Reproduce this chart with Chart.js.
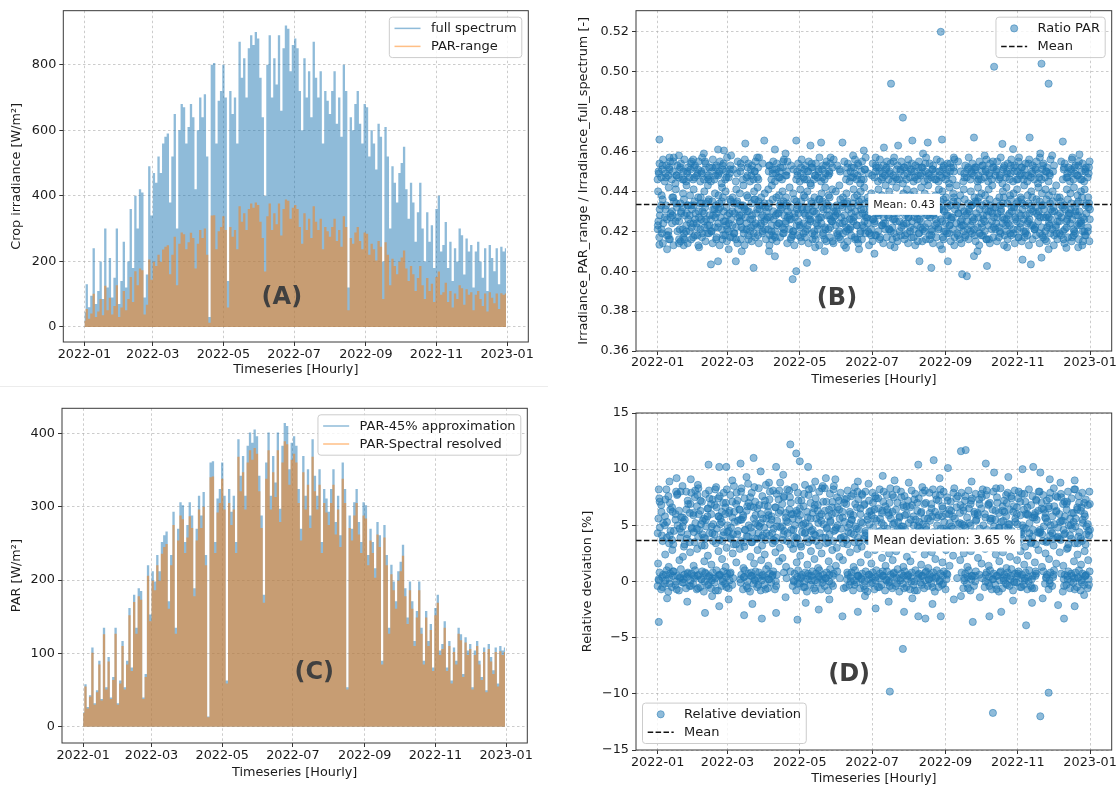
<!DOCTYPE html>
<html>
<head>
<meta charset="utf-8">
<title>PAR irradiance 2022</title>
<script src="https://cdn.jsdelivr.net/npm/chart.js@4.4.1/dist/chart.umd.min.js"></script>
<style>
  html, body { margin: 0; padding: 0; background: #fff; }
  body { width: 1120px; height: 789px; position: relative; overflow: hidden; }
  canvas { position: absolute; }
  .seam { position: absolute; left: 0; top: 386px; width: 548px; height: 0; border-top: 1px solid #ececec; }
</style>
</head>
<body>
<div class="seam"></div>
<canvas id="chartA" width="545" height="390" style="left:0;top:0"></canvas>
<canvas id="chartB" width="560" height="390" style="left:560px;top:0"></canvas>
<canvas id="chartC" width="545" height="394" style="left:0;top:395px"></canvas>
<canvas id="chartD" width="560" height="394" style="left:560px;top:395px"></canvas>
<script>
// time axis: days since 2022-01-01
const monthTickDays = [0, 59, 120, 181, 243, 304, 365];
const monthTickLabels = ['2022-01', '2022-03', '2022-05', '2022-07', '2022-09', '2022-11', '2023-01'];
const X_MIN = -18.25, X_MAX = 383.25;

// (A) / (C): daily peak values, one every 2 days
const fullSpectrum = [
  45,130,60,95,240,70,110,200,85,300,120,210,90,150,300,70,
  140,260,120,200,360,180,400,300,420,410,90,160,490,340,
  470,440,520,470,560,580,590,380,520,650,300,600,680,670,560,
  610,680,640,420,600,700,640,710,520,30,800,805,560,690,720,
  800,700,140,720,650,700,560,870,760,820,700,850,890,860,900,880,
  760,640,400,800,890,700,820,740,890,660,850,920,910,780,860,
  880,850,720,600,820,700,780,640,870,760,700,780,560,720,690,
  650,720,780,620,700,580,800,720,120,640,600,680,720,620,560,680,
  670,520,600,560,480,620,580,200,610,520,300,490,440,380,470,
  500,550,420,330,440,380,260,350,440,300,200,350,260,310,180,
  360,400,230,250,320,180,260,140,240,200,300,280,160,270,230,
  250,120,230,260,200,150,240,110,250,210,170,240,130,245,230,240
];
const par45Approx = [
  20,58,27,43,108,32,50,90,38,135,54,95,40,68,135,32,
  63,117,54,90,162,81,180,135,189,185,40,72,220,153,
  212,198,234,212,252,261,266,171,234,293,135,270,306,302,252,
  275,306,288,189,270,315,288,320,234,14,360,362,252,311,324,
  360,315,63,324,293,315,252,392,342,369,315,383,401,387,405,396,
  342,288,180,360,401,315,369,333,401,297,383,414,410,351,387,
  396,383,324,270,369,315,351,288,392,342,315,351,252,324,311,
  293,324,351,279,315,261,360,324,54,288,270,306,324,279,252,306,
  302,234,270,252,216,279,261,90,275,234,135,221,198,171,212,
  225,248,189,149,198,171,117,158,198,135,90,158,117,140,81,
  162,180,104,113,144,81,117,63,108,90,135,126,72,122,104,
  113,54,104,117,90,68,108,50,113,95,77,108,59,110,104,108
];
const parSpectral = [
  19,55,25,41,101,30,47,85,36,126,51,89,38,64,127,30,
  59,110,51,85,152,76,170,127,178,173,38,68,206,144,
  199,186,220,199,236,245,249,161,220,275,127,254,288,283,237,
  258,287,271,178,254,296,271,300,220,13,340,341,237,292,305,
  338,296,59,305,275,296,237,368,321,347,296,360,377,364,380,372,
  321,271,169,338,377,296,347,313,377,279,360,389,385,330,364,
  372,360,305,254,347,296,330,271,368,321,296,330,237,305,292,
  275,305,330,262,296,245,338,305,51,271,254,288,305,262,237,288,
  284,220,254,237,203,262,245,85,258,220,127,208,186,161,199,
  212,233,178,140,186,161,110,149,186,127,85,149,110,132,76,
  152,169,98,106,135,76,110,59,102,85,127,118,68,115,98,
  106,51,98,110,85,64,102,47,106,89,72,102,55,103,98,102
];
const irradianceTicks = [0, 200, 400, 600, 800];
const parTicks = [0, 100, 200, 300, 400];

// (B): ratio PAR-range / full spectrum, rows sampled every 3 days
const ratioUpper1 = [
  .446,.447,.445,.448,.446,.444,.447,.446,.445,.447,
  .446,.448,.445,.446,.447,.445,.446,.448,.444,.446,
  .447,null,.445,null,.446,.447,.445,.446,.447,null,
  null,null,.446,.445,.447,.446,.448,null,null,.446,
  .445,.447,.446,.444,.446,.447,.445,.446,.448,null,
  null,null,null,.446,.445,.447,.446,.444,.446,null,
  null,.447,.445,.446,.448,.446,.445,.447,.446,.444,
  .446,.447,.445,.446,.448,.445,.446,.447,.446,.445,
  .447,.446,.444,.446,null,null,.445,.447,.446,.448,
  .445,.446,.447,.445,.446,.448,.446,.444,.447,.446,
  .445,.446,.448,.446,.445,.447,.446,.444,.446,.447,
  .445,null,null,null,.446,.447,.445,.446,.448,.446,
  .445,.447
];
const ratioUpper2 = [
  .450,.451,.449,.452,.450,.448,.451,.450,.449,.451,
  .452,.449,.450,.451,.448,.450,.452,.449,.451,.450,
  .449,.451,null,.450,null,.448,.451,.450,.452,null,
  null,.450,.451,.449,.450,.452,.448,null,.451,.450,
  .449,.451,.450,.452,.448,.450,.451,.449,.450,.452,
  null,.451,null,.449,.450,.452,.448,.450,.451,.449,
  null,.450,.452,.449,.451,.450,.448,.451,.450,.452,
  .449,.451,.450,.448,.452,.450,.449,.451,.450,.448,
  .451,.449,.450,.452,null,.450,.449,.451,.450,.452,
  .448,.450,.451,.449,.452,.450,.448,.451,.450,.449,
  .452,.450,.449,.451,.448,.450,.452,.449,.451,.450,
  .449,.450,null,null,.451,.449,.450,.452,.448,.450,
  .451,.449
];
const ratioUpper3 = [
  .454,.456,.453,.455,.457,.453,.454,.456,.452,.455,
  .453,.455,.457,.454,.452,.456,.453,.455,.454,.457,
  .453,null,.455,.452,.456,.454,.453,.455,.457,.454,
  null,.453,.455,.454,.452,.456,.455,.453,null,.454,
  .456,.453,.455,.452,.454,.457,.453,.455,.454,.456,
  .453,null,.455,.454,.452,.456,.453,.455,.457,null,
  .454,.452,.456,.453,.455,.454,.457,.453,.455,.452,
  .456,.454,.453,.455,.452,.457,.454,.453,.456,.455,
  .453,.454,.452,.456,.455,null,.453,.457,.454,.452,
  .455,.453,.456,.454,.452,.455,.457,.453,.454,.456,
  .453,.455,.452,.454,.456,.453,.455,.457,.454,.452,
  .456,.453,null,.455,.454,.452,.456,.453,.455,.454,
  .452,.455
];
const ratioUpper4 = [
  .449,.453,.447,.451,.455,.448,.452,.446,.450,.454,
  .447,.451,.449,.455,.446,.452,.448,.450,.453,.447,
  .451,null,.449,.454,null,.452,.448,.450,.446,null,
  null,.453,.449,.451,.447,.455,.450,null,null,.448,
  .452,.446,.450,.454,.448,.451,.447,.453,.449,null,
  null,.450,null,.452,.447,.449,.454,.446,.451,null,
  .448,.453,.450,.447,.452,.449,.455,.446,.451,.448,
  .453,.450,.447,.452,.449,.454,.448,.451,.446,.450,
  .452,.448,.454,.450,null,null,.447,.452,.449,.451,
  .446,.453,.450,.448,.455,.451,.447,.452,.449,.453,
  .450,.446,.452,.448,.454,.449,.451,.447,.453,.450,
  .448,null,null,null,.452,.447,.451,.449,.453,.446,
  .450,.452
];
const ratioMid = [
  .440,.438,null,.442,.437,.441,null,.439,.443,.438,
  .441,null,.437,.440,.443,null,.439,.438,.442,.440,
  null,.437,.441,.439,.443,.438,null,.440,.442,.437,
  .439,.441,.443,null,.438,.440,.437,.442,.439,null,
  .441,.438,.440,.443,.437,null,.439,.442,.438,.441,
  .440,.443,.437,.439,null,.441,.438,.440,.442,.437,
  .439,null,.441,.438,.443,.440,.437,.442,null,.439,
  .441,.438,.440,.437,.442,.439,.443,null,.438,.441,
  .440,.437,.442,.439,.443,.438,.441,null,.440,.437,
  .442,.439,.438,.441,.443,null,.437,.440,.442,.438,
  .439,.441,.437,.443,.438,.440,null,.442,.439,.441,
  .438,.440,.443,.437,null,.441,.439,.442,.438,.440,
  .441,.437
];
const ratioLower1 = [
  null,.436,.433,null,.437,.432,.434,.436,.433,.433,
  .435,.437,.434,.432,.436,.435,.433,.434,.437,.432,
  .436,.434,.435,.433,.432,.437,.434,.436,.435,.433,
  .432,.434,.436,.437,.433,.435,.434,.432,.436,.433,
  .435,.437,.432,.434,.433,.436,.435,.434,.437,.432,
  .433,.436,.434,.435,.432,.437,.433,.436,.434,.435,
  .437,.432,.434,.436,.433,.435,.432,.434,.437,.436,
  .433,.435,.434,.432,.436,.433,.437,.435,.434,.432,
  .436,.434,.433,.437,.435,.432,.436,.434,.433,.435,
  .437,.433,.434,.436,.432,.435,.433,.437,.434,.436,
  .432,.435,.436,.433,.434,.437,.432,.435,.433,.436,
  .434,.432,.437,.435,.433,.436,.434,.432,.435,.437,
  .433,.434
];
const ratioLower2 = [
  .428,null,.426,.429,null,.427,.430,.428,.426,.431,
  .429,.427,.430,.426,.428,.431,.429,.427,.430,.428,
  .426,.429,.431,.428,.427,.430,.426,.429,.431,.428,
  .430,.427,.426,.429,.431,.428,.430,.426,.427,.429,
  .431,.428,.426,.430,.429,.427,.431,.428,.426,.430,
  .429,.427,.428,.431,.426,.430,.428,.429,.427,.431,
  .426,.429,.430,.427,.428,.431,.426,.429,.430,.428,
  .427,.431,.429,.426,.430,.428,.427,.429,.431,.426,
  .430,.428,.427,.431,.429,.426,.428,.430,.427,.429,
  .431,.426,.428,.430,.427,.429,.431,.426,.428,.430,
  .427,.429,.431,.428,.426,.430,.429,.427,.431,.428,
  .426,.430,.428,.427,.431,.429,.426,.428,.430,.427,
  .429,.431
];
const ratioLower3 = [
  .423,.421,null,.420,.424,null,.425,.421,.423,.420,
  .424,.422,.421,.425,.423,.420,.422,.424,.421,.425,
  .420,.423,.422,.425,.421,.424,.420,.423,.422,.424,
  .425,.421,.423,.420,.424,.422,.425,.421,.420,.423,
  .422,.424,.421,.425,.420,.423,.424,.422,.421,.425,
  .423,.420,.424,.422,.421,.425,.423,.420,.422,.424,
  .421,.425,.420,.423,.424,.421,.422,.425,.420,.423,
  .424,.422,.421,.423,.425,.420,.424,.421,.423,.422,
  .425,.420,.423,.421,.424,.422,.420,.425,.423,.421,
  .422,.424,.420,.423,.425,.421,.422,.424,.420,.423,
  .421,.425,.422,.420,.424,.423,.421,.425,.422,.420,
  .424,.421,.423,.425,.420,.422,.424,.421,.423,.425,
  .420,.422
];
const ratioLower4 = [
  .417,.414,null,.416,.413,null,.415,.419,.414,.416,
  .418,.413,.417,.415,.419,.414,.416,.413,.418,.415,
  .417,.419,.414,.416,.413,.418,.415,.417,.414,.419,
  .416,.413,.418,.415,.417,.419,.414,.416,.413,.418,
  .415,.417,.414,.419,.416,.413,.418,.415,.417,.414,
  .419,.416,.413,.415,.418,.417,.414,.416,.419,.413,
  .415,.418,.416,.414,.417,.413,.419,.415,.418,.416,
  .414,.417,.413,.419,.415,.416,.418,.414,.417,.413,
  .416,.419,.415,.413,.418,.414,.417,.416,.419,.415,
  .413,.418,.416,.414,.417,.415,.419,.413,.416,.418,
  .414,.417,.415,.419,.413,.416,.418,.414,.417,.415,
  .419,.413,.416,.418,.414,.417,.415,.419,.416,.413,
  .418,.415
];
const ratioLower5 = [
  .425,.419,.431,.416,.428,.434,.421,.417,.429,.424,
  .433,.418,.426,.422,.435,.420,.427,.431,.416,.423,
  .429,.417,.434,.425,.419,.430,.422,.436,.418,.427,
  .421,.432,.416,.428,.424,.419,.433,.426,.420,.431,
  .417,.429,.423,.435,.418,.426,.432,.421,.428,.415,
  .430,.424,.419,.434,.422,.427,.416,.431,.425,.420,
  .433,.418,.428,.423,.436,.421,.426,.417,.430,.424,
  .419,.432,.427,.415,.429,.422,.434,.420,.426,.431,
  .417,.428,.423,.435,.419,.425,.430,.421,.433,.418,
  .427,.422,.431,.416,.429,.424,.420,.434,.426,.419,
  .432,.421,.428,.417,.425,.433,.422,.430,.418,.427,
  .423,.435,.419,.429,.416,.426,.431,.420,.428,.424,
  .418,.432
];
const ratioLower6 = [
  .431,.424,.418,.427,.435,.420,.429,.416,.433,.422,
  .426,.430,.419,.434,.423,.428,.417,.432,.425,.421,
  .435,.419,.427,.422,.431,.416,.428,.424,.433,.420,
  .426,.418,.430,.423,.434,.421,.427,.417,.429,.425,
  .432,.420,.428,.416,.424,.436,.419,.431,.422,.427,
  .418,.433,.425,.421,.429,.416,.435,.423,.428,.419,
  .426,.431,.417,.424,.432,.420,.429,.434,.422,.418,
  .427,.425,.433,.419,.421,.430,.416,.428,.424,.435,
  .420,.432,.426,.417,.429,.423,.418,.431,.425,.434,
  .419,.428,.416,.433,.422,.427,.430,.418,.424,.432,
  .426,.417,.434,.420,.429,.423,.436,.419,.427,.422,
  .431,.418,.425,.433,.421,.428,.417,.430,.424,.420,
  .434,.426
];
const ratioLower7 = [
  .421,.433,.427,.418,.430,.425,.416,.432,.420,.428,
  .417,.424,.434,.429,.419,.426,.431,.422,.435,.418,
  .424,.430,.416,.428,.433,.421,.426,.419,.431,.423,
  .434,.427,.420,.417,.429,.432,.424,.428,.418,.435,
  .423,.419,.431,.426,.430,.421,.427,.416,.433,.425,
  .428,.417,.432,.420,.426,.434,.423,.419,.431,.427,
  .418,.424,.429,.433,.421,.427,.416,.430,.425,.435,
  .429,.420,.417,.426,.422,.432,.428,.418,.434,.421,
  .431,.424,.419,.427,.433,.416,.423,.429,.420,.426,
  .435,.418,.425,.430,.421,.432,.417,.427,.423,.429,
  .419,.434,.424,.426,.418,.431,.421,.428,.433,.416,
  .427,.430,.422,.419,.432,.425,.429,.418,.434,.423,
  .426,.420
];
// [day, ratio] for the scattered points outside the bands
const ratioScatter = [
  [1.5,.466],[18,.458],[39,.459],[51,.461],[56,.4605],[74,.464],[90,.4655],[99,.461],
  [117,.4655],[129,.463],[138,.4645],[156,.4645],[174,.4605],[191,.462],[203,.463],
  [215,.4655],[228,.4645],[240,.466],[267,.467],[291,.4638],[300,.4612],[314,.467],
  [323,.459],[342,.465],[356,.4585],
  [10,.457],[30,.456],[62,.458],[84,.457],[108,.459],[146,.457],[165,.458],[184,.457],
  [224,.459],[250,.457],[276,.458],[305,.457],[333,.458],[350,.457],
  [1.5,.4133],[18,.414],[22,.413],[45,.4034],[51,.405],[66,.405],[71,.41],[81,.4017],
  [99,.4075],[114,.396],[117,.4],[126,.4042],[141,.41],[159,.4117],[183,.4088],
  [221,.405],[231,.4017],[245,.405],[257,.3985],[261,.3975],[267,.4076],[278,.4026],
  [308,.4058],[315,.4034],[324,.4068],[345,.4117],[359,.415],
  [8,.411],[35,.412],[60,.411],[94,.41],[133,.412],[170,.411],[200,.412],[240,.411],
  [270,.41],[295,.412],[330,.411],[355,.412],
  [197,.494],[207,.477],[239,.52],[284,.5025],[324,.504],[330,.494]
];
const meanRatio = 0.4335;
const ratioTicks = [0.36, 0.38, 0.40, 0.42, 0.44, 0.46, 0.48, 0.50, 0.52];

// (D): relative deviation [%], rows sampled every 3 days
const devZero1 = [
  -0.4,-0.7,-0.2,-0.9,-0.5,-0.3,-0.8,-0.1,-0.6,-0.4,
  -0.2,-0.7,-0.5,-0.9,-0.3,-0.6,-0.1,-0.8,-0.4,-0.2,
  -0.6,-0.3,null,null,-0.7,-0.4,-0.9,-0.2,-0.5,-0.8,
  -0.3,-0.6,-0.1,-0.7,null,null,null,null,-0.4,-0.8,
  -0.2,-0.5,-0.9,-0.3,-0.6,-0.1,-0.7,-0.4,-0.8,-0.2,
  null,null,null,-0.5,-0.3,-0.8,-0.1,-0.6,-0.4,-0.9,
  -0.2,-0.7,-0.5,-0.3,-0.8,-0.1,-0.6,-0.4,-0.9,-0.2,
  -0.5,-0.7,-0.3,-0.8,-0.1,-0.6,-0.4,-0.2,-0.9,-0.5,
  -0.3,-0.7,null,null,null,null,-0.6,-0.2,-0.8,-0.4,
  null,null,-0.5,-0.1,-0.7,-0.3,-0.9,-0.6,-0.2,-0.4,
  -0.8,-0.1,-0.5,-0.3,-0.7,-0.4,-0.6,null,null,-0.2,
  -0.7,-0.4,null,null,-0.9,-0.3,-0.6,-0.1,-0.5,-0.8,
  -0.3,-0.6
];
const devZero2 = [
  0.2,0.4,0.1,0.3,0.5,0.0,0.3,0.2,0.4,0.1,
  0.3,0.5,0.2,0.0,0.4,0.1,0.3,0.5,0.2,0.4,
  0.1,0.3,null,0.2,0.4,0.0,0.5,0.2,0.3,0.1,
  0.4,0.2,0.5,0.0,null,null,0.3,null,0.1,0.4,
  0.3,0.0,0.2,0.5,0.1,0.4,0.2,0.3,0.0,0.5,
  null,0.3,null,0.2,0.4,0.1,0.5,0.3,0.0,0.2,
  0.4,0.1,0.3,0.5,0.2,0.0,0.4,0.3,0.1,0.5,
  0.2,0.4,0.0,0.3,0.5,0.1,0.2,0.4,0.3,0.0,
  0.5,0.2,null,null,0.3,null,0.1,0.4,0.2,0.5,
  null,0.3,0.0,0.4,0.2,0.5,0.1,0.3,0.4,0.2,
  0.0,0.5,0.3,0.1,0.4,0.2,0.5,null,null,0.3,
  0.1,0.4,null,null,0.2,0.5,0.0,0.3,0.4,0.1,
  0.5,0.2
];
const devZero3 = [
  0.8,0.6,1.0,0.7,0.9,0.5,1.1,0.6,0.8,0.7,
  1.0,0.6,0.9,0.7,0.5,0.8,1.0,0.6,0.9,0.7,
  0.8,null,null,0.6,1.0,0.7,0.5,0.9,0.8,0.6,
  1.1,0.7,0.9,0.6,null,0.8,null,null,0.7,1.0,
  0.6,0.8,0.5,0.9,0.7,1.0,0.6,0.8,1.1,0.7,
  0.9,null,null,0.6,0.8,1.0,0.5,0.7,0.9,0.6,
  0.8,1.0,0.7,0.5,0.9,0.6,0.8,1.1,0.7,0.9,
  0.6,0.8,1.0,0.7,0.5,0.9,0.6,0.8,1.0,0.7,
  0.9,0.6,null,null,null,0.8,0.7,1.0,0.5,0.9,
  0.6,null,0.8,1.0,0.7,0.5,0.9,0.6,0.8,1.1,
  0.7,0.9,0.6,0.8,1.0,0.5,0.7,null,0.9,0.6,
  0.8,1.0,null,0.7,0.6,0.9,0.5,0.8,1.0,0.7,
  0.6,0.9
];
const devZero4 = [
  0.1,-0.5,0.6,-0.2,0.9,-0.7,0.4,-0.1,0.7,-0.4,
  0.5,-0.6,0.2,0.8,-0.3,0.3,-0.8,0.6,0.0,-0.5,
  0.7,null,null,-0.1,0.4,-0.6,0.8,0.1,-0.3,0.5,
  -0.7,0.2,0.6,-0.4,null,null,null,0.9,0.0,-0.2,
  0.4,-0.5,0.7,0.1,-0.8,0.5,-0.1,0.3,0.6,-0.4,
  null,null,-0.6,0.8,0.0,-0.3,0.5,0.2,-0.7,0.6,
  -0.1,0.4,-0.5,0.9,0.1,-0.4,0.7,-0.2,0.3,-0.6,
  0.5,0.0,-0.8,0.6,-0.3,0.8,0.2,-0.5,0.4,0.1,
  -0.2,0.7,null,null,null,null,0.3,-0.6,0.5,0.0,
  null,null,0.6,-0.4,0.2,-0.7,0.8,0.1,-0.3,0.5,
  -0.1,0.7,-0.5,0.3,0.0,-0.6,0.9,null,null,0.4,
  -0.2,0.6,null,null,-0.4,0.2,0.7,-0.7,0.3,-0.1,
  0.5,-0.3
];
const devMid = [
  1.6,null,2.4,1.3,2.8,null,1.9,2.2,null,2.6,
  1.4,2.9,null,1.8,2.3,1.5,null,2.7,2.0,1.3,
  null,2.5,1.7,2.9,1.2,null,2.2,1.6,2.8,1.9,
  2.4,1.4,null,2.6,1.8,2.1,1.3,null,2.9,1.7,
  2.3,null,1.5,2.7,2.0,1.2,2.5,null,1.8,2.8,
  1.4,2.2,1.9,null,2.6,1.3,2.9,1.7,null,2.4,
  1.6,2.8,null,2.1,1.4,2.5,1.9,2.7,null,1.3,
  2.2,1.8,2.9,null,1.5,2.4,1.2,2.6,2.0,null,
  1.7,2.8,1.4,2.3,null,1.9,2.5,1.3,2.7,null,
  2.1,1.6,2.9,1.4,null,2.4,1.8,2.6,1.2,2.2,
  null,1.9,2.7,1.5,2.3,null,1.7,2.8,1.3,2.5,
  2.0,null,1.6,2.6,1.4,2.9,null,1.8,2.4,1.5,
  2.7,1.9
];
const devUpper1 = [
  null,3.6,null,4.1,3.3,null,3.9,3.1,4.2,null,
  3.5,4.0,3.2,3.8,null,4.3,3.4,3.7,4.1,3.0,
  3.9,3.3,4.2,3.6,3.1,4.0,3.5,3.8,4.3,3.2,
  3.7,4.1,3.4,3.9,3.0,4.2,3.6,3.3,4.0,3.8,
  3.1,4.3,3.5,3.7,4.1,3.2,3.9,3.4,4.2,3.6,
  3.0,3.8,4.0,3.3,4.3,3.5,3.9,3.1,4.1,3.7,
  3.4,4.2,3.6,3.0,3.8,4.0,3.2,4.3,3.5,3.9,
  3.1,4.1,3.7,3.3,4.2,3.6,3.0,3.9,4.0,3.4,
  3.8,3.2,4.3,3.5,3.7,4.1,3.1,3.9,3.6,4.2,
  3.3,4.0,3.5,3.8,3.0,4.3,3.6,3.2,4.1,3.7,
  3.9,3.4,4.2,3.1,3.8,4.0,3.3,4.3,3.6,3.5,
  4.1,3.2,3.9,3.7,4.2,3.0,3.8,3.4,4.0,3.6,
  3.3,4.1
];
const devUpper2 = [
  4.8,null,5.3,4.5,null,5.0,4.4,5.5,null,4.7,
  5.2,4.6,5.4,4.9,4.3,5.1,4.7,5.6,4.4,5.0,
  4.8,5.3,4.5,5.5,4.6,5.0,4.4,5.2,4.9,5.6,
  4.3,5.1,4.7,5.4,4.8,4.5,5.3,4.6,5.0,5.5,
  4.4,5.2,4.9,4.6,5.6,4.3,5.1,4.8,5.4,4.5,
  5.0,4.7,5.3,4.4,5.5,4.9,4.6,5.2,4.3,5.1,
  4.8,5.4,4.5,5.0,4.7,5.6,4.4,5.3,4.9,4.6,
  5.2,4.3,5.5,4.8,5.1,4.6,5.4,4.4,5.0,4.7,
  5.3,4.5,4.9,5.6,4.4,5.1,4.8,5.2,4.3,5.5,
  4.7,5.0,4.6,5.4,4.9,4.4,5.3,4.8,5.1,4.5,
  5.6,4.3,5.0,4.7,5.2,4.6,5.5,4.4,4.9,5.3,
  4.5,5.1,4.8,5.4,4.3,5.0,4.7,5.6,4.4,5.2,
  4.9,4.6
];
const devUpper3 = [
  null,6.2,5.8,null,6.6,6.0,null,5.7,6.4,6.1,
  5.9,6.7,6.3,5.6,6.5,6.0,6.8,5.8,6.2,6.6,
  6.1,5.7,6.9,6.4,5.9,6.3,6.7,5.6,6.5,6.0,
  6.8,6.2,5.8,6.6,6.1,6.9,5.7,6.4,6.0,6.3,
  5.9,6.7,6.2,5.6,6.5,6.8,6.0,6.3,5.8,6.6,
  6.1,6.4,5.7,6.9,6.2,5.9,6.6,6.0,6.8,5.8,
  6.3,5.6,6.5,6.1,6.7,5.9,6.2,6.4,5.7,6.8,
  6.0,6.6,5.8,6.3,6.1,6.9,5.6,6.5,6.2,5.9,
  6.7,6.0,6.4,5.8,6.6,6.1,6.3,5.7,6.9,6.2,
  5.9,6.5,6.0,6.8,5.6,6.3,6.1,6.7,5.8,6.4,
  6.2,6.6,5.9,6.4,6.0,6.8,5.7,6.3,6.5,6.1,
  6.7,5.8,6.2,6.0,6.9,6.4,5.6,6.1,6.6,6.3,
  6.0,6.8
];
const devUpper4 = [
  7.4,null,8.2,7.0,null,7.7,8.0,null,7.2,7.9,
  7.5,8.3,7.1,7.8,8.1,7.3,8.4,7.6,7.0,8.2,
  7.7,8.5,7.2,8.0,7.4,8.7,7.9,7.1,8.3,7.6,
  8.6,7.3,8.1,7.8,8.8,7.5,8.2,7.0,8.4,7.9,
  7.2,8.6,7.7,8.3,7.4,8.0,8.5,7.1,7.8,8.2,
  7.5,7.9,7.0,8.1,7.6,8.4,7.3,7.8,8.0,7.2,
  7.9,7.4,8.2,7.1,7.7,8.3,7.5,7.0,8.0,7.6,
  7.2,8.1,7.8,7.4,8.4,7.0,7.9,8.2,7.3,7.7,
  8.0,7.5,7.1,8.3,7.6,7.9,7.2,8.1,7.4,7.8,
  7.3,8.2,7.7,7.0,8.0,7.5,8.3,7.2,7.9,7.6,
  8.1,7.4,7.8,7.1,8.2,7.6,7.3,8.0,7.7,7.2,
  7.9,8.3,7.5,7.8,7.1,8.0,7.4,8.2,7.6,7.9,
  7.3,8.0
];
const devUpper5 = [
  5.6,4.1,7.3,3.4,6.2,8.0,4.7,5.3,3.8,6.9,
  4.4,7.7,5.1,3.2,6.5,4.9,8.2,5.8,3.6,7.0,
  6.3,4.2,7.9,5.5,3.5,6.7,4.8,8.4,5.0,3.9,
  7.2,5.9,4.3,6.6,8.1,3.7,5.4,7.5,4.6,6.1,
  3.3,7.8,5.7,4.5,6.8,5.2,8.3,3.9,6.4,7.1,
  4.8,5.6,3.4,7.4,6.0,4.2,8.0,5.3,6.9,3.6,
  5.9,7.6,4.4,6.3,3.8,7.0,5.1,8.2,4.7,6.6,
  3.5,5.5,7.3,4.9,6.2,8.1,4.1,5.8,7.7,3.7,
  6.5,4.6,5.2,7.9,3.3,6.8,5.0,4.3,7.2,6.0,
  4.0,7.5,5.7,3.6,6.4,8.3,4.8,5.4,7.0,3.9,
  6.7,5.1,4.4,7.8,5.9,3.5,6.1,8.0,4.2,5.6,
  7.4,3.8,6.3,5.3,4.6,7.1,5.0,8.2,3.4,6.6,
  5.8,4.5
];
const devUpper6 = [
  7.1,5.2,3.9,6.4,4.5,7.8,5.7,3.3,6.9,4.8,
  8.1,6.0,4.2,5.5,7.4,3.6,6.6,5.1,7.9,4.4,
  3.8,6.2,5.4,8.3,4.6,7.0,3.5,5.9,6.8,4.1,
  5.6,8.0,3.7,4.9,6.3,7.6,4.3,6.0,3.4,7.2,
  5.0,4.4,8.2,6.1,3.6,5.8,7.1,4.7,5.3,8.5,
  6.6,3.9,7.3,4.8,5.5,6.9,3.5,7.7,4.5,6.2,
  7.0,4.3,5.6,8.0,6.4,3.8,5.2,4.6,7.5,5.9,
  4.2,6.8,3.6,5.3,7.9,4.9,6.1,3.4,5.7,8.2,
  4.7,7.2,6.3,3.9,5.1,4.4,7.6,6.5,3.7,5.4,
  6.9,4.1,8.1,5.6,4.5,7.0,3.5,6.2,4.8,7.4,
  5.3,8.0,3.8,6.0,4.3,5.7,7.2,4.6,6.4,3.6,
  5.0,6.7,4.0,7.5,5.8,3.3,6.1,4.9,7.0,5.5,
  4.2,6.9
];
const devUpper7 = [
  4.3,6.8,5.0,7.6,3.7,5.5,6.3,4.9,8.0,3.5,
  6.1,4.7,7.2,3.9,5.8,6.9,4.2,7.4,5.3,6.0,
  4.5,7.1,3.3,6.4,5.7,4.0,7.5,6.6,3.8,5.2,
  4.8,6.7,5.5,3.6,7.3,4.9,6.1,8.1,5.6,3.9,
  6.5,5.1,3.8,7.0,4.2,6.3,5.4,8.3,3.5,6.0,
  4.6,7.2,6.2,3.7,5.1,7.8,4.7,6.5,3.8,5.5,
  4.0,6.4,7.4,5.2,4.4,6.1,7.7,3.6,5.8,4.9,
  6.7,3.9,5.0,7.0,4.5,5.6,3.3,6.9,4.3,7.2,
  5.8,3.6,6.0,4.7,7.4,5.2,6.6,3.9,5.0,4.4,
  6.1,7.8,4.2,6.9,3.7,5.5,4.8,6.3,7.7,5.1,
  3.9,6.0,7.1,4.8,6.6,3.4,5.9,4.4,7.0,5.7,
  6.5,4.3,7.6,3.8,5.4,6.9,4.1,5.3,6.4,3.8,
  7.0,5.1
];
// [day, deviation %] for the scattered points outside the bands
const deviationScatter = [
  [1,8.2],[16,9.2],[21,8.5],[34,8.6],[43,10.4],[52,10.2],[58,10.2],[70,10.5],[81,11.0],
  [87,9.8],[100,10.2],[112,12.2],[117,11.4],[120,10.7],[127,10.2],[142,9.2],[169,8.9],
  [190,9.4],[220,10.4],[233,10.8],[245,10.1],[256,11.6],[260,11.7],[277,10.5],[284,9.7],
  [308,10.0],[317,10.2],[323,9.7],[331,9.1],
  [10,8.9],[28,9.1],[63,9.0],[75,9.3],[94,8.8],[106,9.5],[133,8.9],[150,9.1],[178,8.7],
  [200,9.0],[212,8.8],[238,9.2],[265,8.9],[296,9.3],[340,8.8],[352,9.0],
  [1,-3.6],[40,-2.8],[52,-2.2],[73,-3.0],[88,-3.3],[100,-2.8],[118,-3.4],[136,-2.5],
  [156,-3.1],[169,-2.7],[184,-2.4],[208,-2.7],[220,-3.1],[226,-3.3],[239,-3.1],[256,-1.3],
  [266,-3.6],[280,-3.1],[290,-2.7],[311,-3.9],[316,-1.9],[343,-3.3],[352,-2.2],
  [8,-1.5],[25,-1.8],[46,-1.3],[60,-1.6],[80,-2.0],[108,-1.4],[125,-1.9],[145,-1.6],
  [175,-1.3],[195,-1.8],[215,-1.5],[232,-2.0],[250,-1.6],[272,-1.4],[300,-1.7],[325,-1.5],
  [338,-2.1],[360,-1.2],
  [196,-9.8],[207,-6.0],[283,-11.7],[323,-12.0],[330,-9.9]
];
const meanDeviation = 3.65;
const deviationTicks = [-15, -10, -5, 0, 5, 10, 15];

// ---------------- styling ----------------
const FONT = "'DejaVu Sans', sans-serif";
const TEXT = '#1a1a1a';
const TICK_FONT = { family: FONT, size: 12.8 };
const GRID_COLOR = 'rgba(170,170,170,0.75)';
const BLUE_HALF = 'rgba(31,119,180,0.5)';
const ORANGE_HALF = 'rgba(255,127,14,0.5)';
const POINT_R = 3.6;
const MEAN_DASH = [5.5, 2.4];

const AREA_STEP = 2;
const SCATTER_STEP = 3;
const toSteps = vals => vals.map((v, i) => ({ x: i * AREA_STEP, y: v }));
const toRow = (vals, shift) => vals.flatMap((v, i) => v === null ? [] : [{ x: i * SCATTER_STEP + shift, y: v }]);
const toPairs = pairs => pairs.map(([x, y]) => ({ x, y }));

function drawLegend(chart, spec) {
  const { ctx, chartArea: a } = chart;
  const items = spec.order.map(i => chart.data.datasets[i]);
  const fs = 13, pad = 5.2, hl = 26, tp = 10.4, pitch = 18, gap = 6.5;
  ctx.save();
  ctx.font = fs + 'px ' + FONT;
  const tw = Math.max(...items.map(ds => ctx.measureText(ds.label).width));
  const w = pad + hl + tp + tw + pad;
  const h = 2 * pad + 12 + pitch * (items.length - 1);
  const x = spec.corner === 'bl' ? a.left + gap : a.right - gap - w;
  const y = spec.corner === 'bl' ? a.bottom - gap - h : a.top + gap;
  ctx.beginPath();
  if (ctx.roundRect) ctx.roundRect(x, y, w, h, 3); else ctx.rect(x, y, w, h);
  ctx.fillStyle = 'rgba(255,255,255,0.8)';
  ctx.fill();
  ctx.strokeStyle = '#cccccc';
  ctx.lineWidth = 1;
  ctx.stroke();
  items.forEach((ds, k) => {
    const cy = y + pad + 6 + k * pitch;
    const hx = x + pad;
    if (ds.legendKind === 'marker') {
      ctx.beginPath();
      ctx.arc(hx + hl / 2, cy, POINT_R, 0, 2 * Math.PI);
      ctx.fillStyle = ds.backgroundColor;
      ctx.fill();
      ctx.strokeStyle = ds.backgroundColor;
      ctx.lineWidth = 1;
      ctx.stroke();
    } else {
      ctx.beginPath();
      ctx.setLineDash(ds.legendKind === 'dash' ? MEAN_DASH : []);
      ctx.moveTo(hx, cy);
      ctx.lineTo(hx + hl, cy);
      ctx.strokeStyle = ds.legendColor;
      ctx.lineWidth = 1.5;
      ctx.stroke();
      ctx.setLineDash([]);
    }
    ctx.fillStyle = TEXT;
    ctx.textAlign = 'left';
    ctx.textBaseline = 'middle';
    ctx.fillText(ds.label, hx + hl + tp, cy + 0.5);
  });
  ctx.restore();
}

// frame, legend box, mean label and panel letter
const decorPlugin = {
  id: 'decor',
  afterDatasetsDraw(chart) {
    const { ctx, chartArea: a } = chart;
    ctx.save();
    ctx.strokeStyle = '#3a3a3a';
    ctx.lineWidth = 1;
    ctx.strokeRect(a.left, a.top, a.right - a.left, a.bottom - a.top);
    ctx.restore();
  },
  afterDraw(chart, args, opts) {
    const { ctx, chartArea: a, scales } = chart;
    if (opts.meanLabel) {
      const m = opts.meanLabel;
      const px = scales.x.getPixelForValue(m.x);
      const py = scales.y.getPixelForValue(m.y);
      ctx.save();
      ctx.font = m.size + 'px ' + FONT;
      const tw = ctx.measureText(m.text).width;
      ctx.fillStyle = '#ffffff';
      ctx.fillRect(px - 5, py - m.size / 2 - 5, tw + 10, m.size + 10);
      ctx.fillStyle = TEXT;
      ctx.textAlign = 'left';
      ctx.textBaseline = 'middle';
      ctx.fillText(m.text, px, py + 0.5);
      ctx.restore();
    }
    if (opts.legend) drawLegend(chart, opts.legend);
    if (opts.letter) {
      const l = opts.letter;
      ctx.save();
      ctx.font = 'bold 24px ' + FONT;
      ctx.fillStyle = '#404040';
      ctx.textAlign = 'center';
      ctx.textBaseline = 'middle';
      ctx.fillText(l.text, a.left + l.fx * (a.right - a.left), a.top + l.fy * (a.bottom - a.top));
      ctx.restore();
    }
  }
};
Chart.register(decorPlugin);

function xAxis(height, tickPad, titlePad) {
  return {
    type: 'linear', position: 'bottom', min: X_MIN, max: X_MAX,
    afterBuildTicks: s => { s.ticks = monthTickDays.map(v => ({ value: v })); },
    afterFit: s => { s.height = height; },
    ticks: { autoSkip: false, maxRotation: 0, padding: tickPad, color: TEXT, font: TICK_FONT,
             callback: (v, i) => monthTickLabels[i] },
    grid: { color: GRID_COLOR, lineWidth: 0.8, tickLength: 4, tickColor: '#333', tickWidth: 1 },
    border: { display: false, dash: [2.5, 2.5] },
    title: { display: true, text: 'Timeseries [Hourly]', color: TEXT, font: TICK_FONT,
             padding: { top: 0, bottom: titlePad } }
  };
}

function yAxis(o) {
  return {
    type: 'linear', min: o.min, max: o.max,
    afterBuildTicks: s => { s.ticks = o.ticks.map(v => ({ value: v })); },
    afterFit: s => { s.width = o.width; },
    ticks: { padding: 3, color: TEXT, font: TICK_FONT, callback: o.fmt },
    grid: { color: GRID_COLOR, lineWidth: 0.8, tickLength: 4, tickColor: '#333', tickWidth: 1 },
    border: { display: false, dash: [2.5, 2.5] },
    title: { display: true, text: o.title, color: TEXT, font: TICK_FONT,
             padding: { top: o.titlePad, bottom: 0 } }
  };
}

function baseOptions(p) {
  return {
    responsive: false, animation: false, events: [],
    layout: { padding: p.padding },
    scales: { x: p.x, y: p.y },
    plugins: { legend: { display: false }, tooltip: { enabled: false }, decor: p.decor }
  };
}

function areaDataset(label, vals, color, order) {
  return {
    type: 'line', label, data: toSteps(vals), stepped: 'middle', fill: 'origin',
    backgroundColor: color, borderColor: 'rgba(0,0,0,0)', borderWidth: 0, pointRadius: 0,
    order, legendKind: 'line', legendColor: color
  };
}

function scatterDataset(label, points) {
  return {
    type: 'scatter', label, data: points, pointRadius: POINT_R, borderWidth: 1,
    backgroundColor: BLUE_HALF, borderColor: BLUE_HALF, order: 2, legendKind: 'marker'
  };
}

function meanDataset(value) {
  return {
    type: 'line', label: 'Mean', data: [{ x: X_MIN, y: value }, { x: X_MAX, y: value }],
    borderColor: '#111', borderWidth: 1.5, borderDash: MEAN_DASH, pointRadius: 0,
    order: 1, legendKind: 'dash', legendColor: '#111'
  };
}

const minusFmt = v => (v < 0 ? '\u2212' + Math.abs(v) : String(v));

// (A)
new Chart(document.getElementById('chartA'), {
  type: 'line',
  data: { datasets: [
    areaDataset('full spectrum', fullSpectrum, BLUE_HALF, 2),
    areaDataset('PAR-range', parSpectral, ORANGE_HALF, 1)
  ] },
  options: baseOptions({
    padding: { left: 0, top: 7.3, right: 16.7, bottom: 0 },
    x: xAxis(48, 1, 12.3),
    y: yAxis({ min: -46, max: 965, ticks: irradianceTicks, fmt: v => String(v),
               title: 'Crop irradiance [W/m\u00b2]', width: 63.3, titlePad: 9.3 }),
    decor: { legend: { corner: 'tr', order: [0, 1] }, letter: { text: '(A)', fx: 0.47, fy: 0.866 } }
  })
});

// (B)
const ratioPoints = [].concat(
  toRow(ratioUpper1, 0), toRow(ratioUpper2, 0.8), toRow(ratioUpper3, 1.6), toRow(ratioUpper4, 1.05),
  toRow(ratioMid, 0.4), toRow(ratioLower1, 1.2), toRow(ratioLower2, 1.9), toRow(ratioLower3, 0.2),
  toRow(ratioLower4, 1.4), toRow(ratioLower5, 0.65), toRow(ratioLower6, 1.75), toRow(ratioLower7, 0.1),
  toPairs(ratioScatter)
);
new Chart(document.getElementById('chartB'), {
  type: 'scatter',
  data: { datasets: [scatterDataset('Ratio PAR', ratioPoints), meanDataset(meanRatio)] },
  options: baseOptions({
    padding: { left: 0, top: 7.3, right: 8.3, bottom: 0 },
    x: xAxis(39, 0, 2.3),
    y: yAxis({ min: 0.36, max: 0.5306, ticks: ratioTicks, fmt: v => v.toFixed(2),
               title: 'Irradiance_PAR_range / Irradiance_full_spectrum [-]', width: 76, titlePad: 16.3 }),
    decor: {
      legend: { corner: 'tr', order: [0, 1] },
      meanLabel: { x: 182, y: meanRatio, text: 'Mean: ' + meanRatio.toFixed(2), size: 11 },
      letter: { text: '(B)', fx: 0.4225, fy: 0.846 }
    }
  })
});

// (C)
new Chart(document.getElementById('chartC'), {
  type: 'line',
  data: { datasets: [
    areaDataset('PAR-45% approximation', par45Approx, BLUE_HALF, 2),
    areaDataset('PAR-Spectral resolved', parSpectral, ORANGE_HALF, 1)
  ] },
  options: baseOptions({
    padding: { left: 0, top: 13.3, right: 17.7, bottom: 0 },
    x: xAxis(46, 1, 8.8),
    y: yAxis({ min: -22, max: 434, ticks: parTicks, fmt: v => String(v),
               title: 'PAR [W/m\u00b2]', width: 62, titlePad: 8.8 }),
    decor: { legend: { corner: 'tr', order: [0, 1] }, letter: { text: '(C)', fx: 0.542, fy: 0.791 } }
  })
});

// (D)
const deviationPoints = [].concat(
  toRow(devZero1, 0), toRow(devZero2, 0.8), toRow(devZero3, 1.6), toRow(devZero4, 1.05),
  toRow(devMid, 0.4), toRow(devUpper1, 1.2), toRow(devUpper2, 1.9), toRow(devUpper3, 0.2),
  toRow(devUpper4, 1.4), toRow(devUpper5, 0.65), toRow(devUpper6, 1.75), toRow(devUpper7, 0.1),
  toPairs(deviationScatter)
);
new Chart(document.getElementById('chartD'), {
  type: 'scatter',
  data: { datasets: [scatterDataset('Relative deviation', deviationPoints), meanDataset(meanDeviation)] },
  options: baseOptions({
    padding: { left: 0, top: 18, right: 8.3, bottom: 0 },
    x: xAxis(39, 1, 2.3),
    y: yAxis({ min: -15, max: 15, ticks: deviationTicks, fmt: minusFmt,
               title: 'Relative deviation [%]', width: 76, titlePad: 19.8 }),
    decor: {
      legend: { corner: 'bl', order: [0, 1] },
      meanLabel: { x: 182, y: meanDeviation, text: 'Mean deviation: ' + meanDeviation.toFixed(2) + ' %', size: 12 },
      letter: { text: '(D)', fx: 0.448, fy: 0.778 }
    }
  })
});
</script>
</body>
</html>
